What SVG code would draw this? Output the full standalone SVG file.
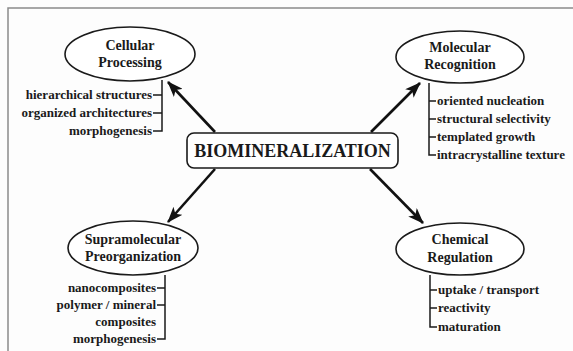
<svg xmlns="http://www.w3.org/2000/svg" width="573" height="351" viewBox="0 0 573 351" style="font-family:'Liberation Serif',serif">
<defs>
<marker id="ah" markerUnits="userSpaceOnUse" viewBox="0 0 16 12" refX="15" refY="6" markerWidth="16" markerHeight="12" orient="auto">
<path d="M0,0 L16,6 L0,12 L4,6 z" fill="#111"/>
</marker>
</defs>
<rect width="573" height="351" fill="#fdfdfd"/>
<path d="M8,351 V8 H573" fill="none" stroke="#8a8a8a" stroke-width="1.5"/>
<g id="connectors" stroke="#111" stroke-width="2.6" fill="none" marker-end="url(#ah)">
<line x1="215" y1="132" x2="168" y2="82"/>
<line x1="371" y1="132" x2="420" y2="83"/>
<line x1="215" y1="169" x2="168" y2="222"/>
<line x1="370" y1="169" x2="423" y2="223"/>
</g>
<g id="center">
<rect x="187" y="133" width="211" height="35" rx="7" fill="#fff" stroke="#1a1a1a" stroke-width="1.6"/>
<text style="font-family:'Liberation Serif',serif;font-weight:bold;font-size:18px" fill="#1a1a1a" x="292.5" y="157" text-anchor="middle">BIOMINERALIZATION</text>
</g>
<g id="cellular">
<ellipse cx="130" cy="54" rx="65" ry="27" fill="#fff" stroke="#1a1a1a" stroke-width="1.6"/>
<text style="font-family:'Liberation Serif',serif;font-weight:bold;font-size:14px" fill="#1a1a1a" text-anchor="middle" x="130" y="50">Cellular</text>
<text style="font-family:'Liberation Serif',serif;font-weight:bold;font-size:14px" fill="#1a1a1a" text-anchor="middle" x="130" y="67">Processing</text>
<path d="M162,80 V131 H153 M162,95 H153 M162,113 H153" fill="none" stroke="#1a1a1a" stroke-width="1.5"/>
<text style="font-family:'Liberation Serif',serif;font-weight:bold;font-size:13px" fill="#1a1a1a" text-anchor="end" x="152" y="99">hierarchical structures</text>
<text style="font-family:'Liberation Serif',serif;font-weight:bold;font-size:13px" fill="#1a1a1a" text-anchor="end" x="152" y="117">organized architectures</text>
<text style="font-family:'Liberation Serif',serif;font-weight:bold;font-size:13px" fill="#1a1a1a" text-anchor="end" x="152" y="135">morphogenesis</text>
</g>
<g id="molecular">
<ellipse cx="460" cy="57" rx="64" ry="26" fill="#fff" stroke="#1a1a1a" stroke-width="1.6"/>
<text style="font-family:'Liberation Serif',serif;font-weight:bold;font-size:14px" fill="#1a1a1a" text-anchor="middle" x="460" y="52">Molecular</text>
<text style="font-family:'Liberation Serif',serif;font-weight:bold;font-size:14px" fill="#1a1a1a" text-anchor="middle" x="460" y="69">Recognition</text>
<path d="M429,83 V155 H436 M429,101 H436 M429,119 H436 M429,137 H436" fill="none" stroke="#1a1a1a" stroke-width="1.5"/>
<text style="font-family:'Liberation Serif',serif;font-weight:bold;font-size:13px" fill="#1a1a1a" x="437" y="105">oriented nucleation</text>
<text style="font-family:'Liberation Serif',serif;font-weight:bold;font-size:13px" fill="#1a1a1a" x="437" y="123">structural selectivity</text>
<text style="font-family:'Liberation Serif',serif;font-weight:bold;font-size:13px" fill="#1a1a1a" x="437" y="141">templated growth</text>
<text style="font-family:'Liberation Serif',serif;font-weight:bold;font-size:13px" fill="#1a1a1a" x="437" y="159">intracrystalline texture</text>
</g>
<g id="supramolecular">
<ellipse cx="133" cy="248" rx="65" ry="27" fill="#fff" stroke="#1a1a1a" stroke-width="1.6"/>
<text style="font-family:'Liberation Serif',serif;font-weight:bold;font-size:14px" fill="#1a1a1a" text-anchor="middle" x="133" y="244">Supramolecular</text>
<text style="font-family:'Liberation Serif',serif;font-weight:bold;font-size:14px" fill="#1a1a1a" text-anchor="middle" x="133" y="261">Preorganization</text>
<path d="M165,275 V339 H157 M165,288 H157 M165,305 H157" fill="none" stroke="#1a1a1a" stroke-width="1.5"/>
<text style="font-family:'Liberation Serif',serif;font-weight:bold;font-size:13px" fill="#1a1a1a" text-anchor="end" x="156" y="292">nanocomposites</text>
<text style="font-family:'Liberation Serif',serif;font-weight:bold;font-size:13px" fill="#1a1a1a" text-anchor="end" x="156" y="309">polymer / mineral</text>
<text style="font-family:'Liberation Serif',serif;font-weight:bold;font-size:13px" fill="#1a1a1a" text-anchor="end" x="156" y="326">composites</text>
<text style="font-family:'Liberation Serif',serif;font-weight:bold;font-size:13px" fill="#1a1a1a" text-anchor="end" x="156" y="343">morphogenesis</text>
</g>
<g id="chemical">
<ellipse cx="460" cy="249" rx="64" ry="26" fill="#fff" stroke="#1a1a1a" stroke-width="1.6"/>
<text style="font-family:'Liberation Serif',serif;font-weight:bold;font-size:14px" fill="#1a1a1a" text-anchor="middle" x="460" y="244">Chemical</text>
<text style="font-family:'Liberation Serif',serif;font-weight:bold;font-size:14px" fill="#1a1a1a" text-anchor="middle" x="460" y="262">Regulation</text>
<path d="M430,275 V327 H437 M430,290 H437 M430,308 H437" fill="none" stroke="#1a1a1a" stroke-width="1.5"/>
<text style="font-family:'Liberation Serif',serif;font-weight:bold;font-size:13px" fill="#1a1a1a" x="438" y="294">uptake / transport</text>
<text style="font-family:'Liberation Serif',serif;font-weight:bold;font-size:13px" fill="#1a1a1a" x="438" y="312">reactivity</text>
<text style="font-family:'Liberation Serif',serif;font-weight:bold;font-size:13px" fill="#1a1a1a" x="438" y="331">maturation</text>
</g>
</svg>
